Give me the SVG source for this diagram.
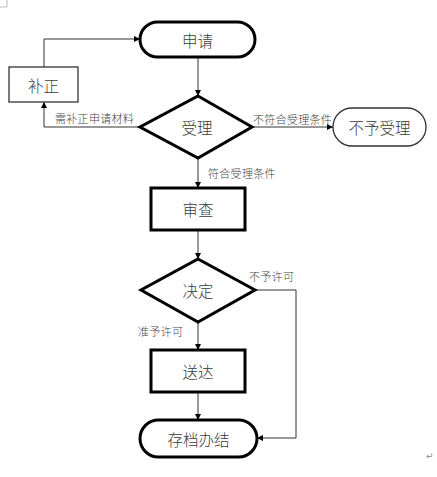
<svg xmlns="http://www.w3.org/2000/svg" width="437" height="477" viewBox="0 0 437 477">
<style>
.thick{fill:#fff;stroke:#000;stroke-width:3}
.thin{fill:#fff;stroke:#333;stroke-width:1.3}
.t{font-family:"Noto Sans CJK SC","Liberation Serif",serif;font-size:15.5px;font-weight:300;fill:#3a3a3a;text-anchor:middle;dominant-baseline:central}
.l{font-family:"Noto Sans CJK SC","Liberation Serif",serif;font-size:11px;font-weight:300;letter-spacing:0.3px;fill:#444;dominant-baseline:central}
.c{fill:none;stroke:#333;stroke-width:1}
</style>
<defs>
<marker id="a" viewBox="0 0 10 10" refX="10" refY="5" markerWidth="6" markerHeight="6" orient="auto" markerUnits="userSpaceOnUse">
<path d="M0,0 L10,5 L0,10 z" fill="#000"/>
</marker>
</defs>
<rect width="437" height="477" fill="#fff"/>
<path d="M7,0 V7 H0" fill="none" stroke="#bbb" stroke-width="1"/>
<g id="connectors">
<path class="c" d="M198,57 V96" marker-end="url(#a)"/>
<path class="c" d="M140,127 H44 V102" marker-end="url(#a)"/>
<path class="c" d="M44,67 V39 H140" marker-end="url(#a)"/>
<path class="c" d="M252,127 H333" marker-end="url(#a)"/>
<path class="c" d="M198,158 V188" marker-end="url(#a)"/>
<path class="c" d="M198,230 V259" marker-end="url(#a)"/>
<path class="c" d="M255,290 H296 V438 H257" marker-end="url(#a)"/>
<path class="c" d="M198,322 V350" marker-end="url(#a)"/>
<path class="c" d="M198,392 V420" marker-end="url(#a)"/>
<text class="l" x="55" y="118">需补正申请材料</text>
<text class="l" x="253" y="119">不符合受理条件</text>
<text class="l" x="208" y="173">符合受理条件</text>
<text class="l" x="249" y="276">不予许可</text>
<text class="l" x="138" y="331">准予许可</text>
</g>
<g id="n-apply"><rect class="thick" x="140" y="22" width="115" height="35" rx="17.5"/><text class="t" x="197.5" y="39.5">申请</text></g>
<g id="n-fix"><rect class="thin" x="9" y="67" width="69" height="35"/><text class="t" x="43.5" y="84.5">补正</text></g>
<g id="n-accept"><polygon class="thick" points="198,96 252,127 198,158 140,127"/><text class="t" x="197" y="127">受理</text></g>
<g id="n-reject"><rect class="thin" x="333" y="108" width="93" height="38" rx="19"/><text class="t" x="379.5" y="127">不予受理</text></g>
<g id="n-review"><rect class="thick" x="151" y="188" width="94" height="42"/><text class="t" x="198" y="209">审查</text></g>
<g id="n-decide"><polygon class="thick" points="198,259 255,290 198,322 141,290"/><text class="t" x="198" y="290">决定</text></g>
<g id="n-deliver"><rect class="thick" x="151" y="350" width="94" height="42"/><text class="t" x="198" y="371">送达</text></g>
<g id="n-archive"><rect class="thick" x="140" y="420" width="117" height="37" rx="18.5"/><text class="t" x="198.5" y="438.5">存档办结</text></g>
<text x="426" y="459" font-family="DejaVu Sans,sans-serif" font-size="9" fill="#888">↵</text>
</svg>
